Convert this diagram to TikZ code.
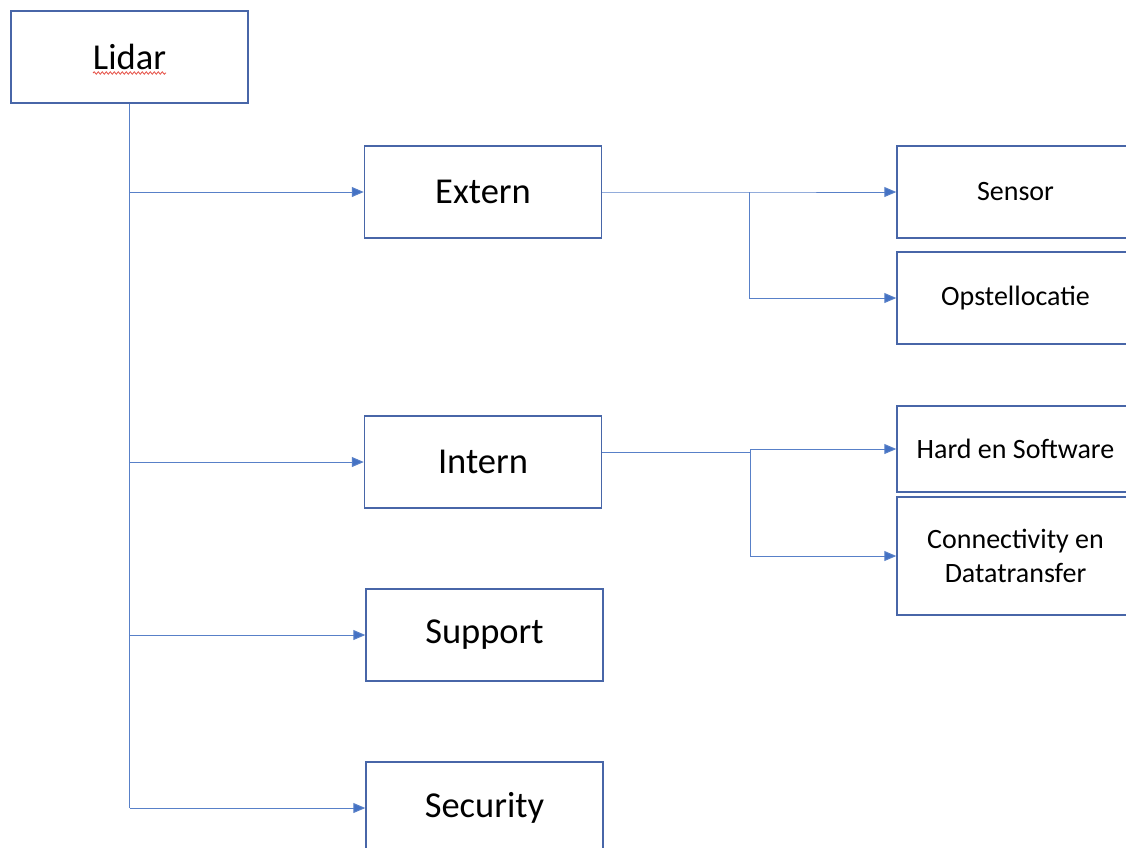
\documentclass[tikz,border=0pt]{standalone}
\usepackage{fontspec}
\setmainfont{Carlito}
\usetikzlibrary{arrows.meta,decorations.pathmorphing}
\definecolor{boxblue}{RGB}{72,102,168}
\definecolor{linkblue}{RGB}{88,128,200}
\definecolor{tipblue}{RGB}{68,114,196}
\definecolor{squiggle}{RGB}{230,80,70}
\tikzset{
  box/.style={draw=boxblue, line width=1.5pt, fill=white, minimum width=237pt, inner sep=0pt, align=center, text=black},
  bigbox/.style={box, minimum height=92pt, font=\fontsize{36.5}{42}\selectfont},
  smallbox/.style={box, font=\fontsize{28}{34}\selectfont},
  link/.style={draw=linkblue, line width=1pt},
  arrowlink/.style={link, -{Triangle[length=12pt,width=10pt,fill=tipblue]}},
}
\begin{document}
\begin{tikzpicture}[x=1pt,y=-1pt]
\useasboundingbox (0,0) rectangle (1126,847);
\clip (0,0) rectangle (1126,847);
\node[bigbox] (lidar) at (129.5,57) {Lidar};
\node[bigbox] (extern) at (483,192) {Extern};
\node[bigbox] (intern) at (483,462) {Intern};
\node[bigbox] (support) at (484.5,635) {Support};
\node[bigbox] (security) at (484.5,808) {Security};
\node[smallbox, minimum height=92pt] (sensor) at (1015.5,192) {Sensor};
\node[smallbox, minimum height=92pt] (opst) at (1015.5,298) {Opstellocatie};
\node[smallbox, minimum height=86pt] (hard) at (1015.5,449) {Hard en Software};
\node[smallbox, minimum height=118pt] (conn) at (1015.5,556) {Connectivity en\\Datatransfer};
% spell-check squiggle under Lidar
\coordinate (sq1) at (93,73);
\coordinate (sq2) at (166,73);
\draw[draw=squiggle, line width=0.8pt, decorate, decoration={snake, amplitude=1.2pt, segment length=4pt}] (sq1) -- (sq2);
% trunk
\coordinate (tEnd) at (lidar.south |- security.west);
\draw[link] (lidar.south) -- (tEnd);
\draw[arrowlink] (lidar.south |- extern.west) -- (extern.west);
\draw[arrowlink] (lidar.south |- intern.west) -- (intern.west);
\draw[arrowlink] (lidar.south |- support.west) -- (support.west);
\draw[arrowlink] (tEnd) -- (security.west);
% right branches
\coordinate (j1) at (749,192);
\coordinate (j2) at (750,452);
\draw[arrowlink] (extern.east) -- (j1) |- (sensor.west);
\draw[arrowlink] (j1) |- (opst.west);
\draw[arrowlink] (intern.east |- j2) -- (j2) |- (hard.west);
\draw[arrowlink] (j2) |- (conn.west);
\end{tikzpicture}
\end{document}
